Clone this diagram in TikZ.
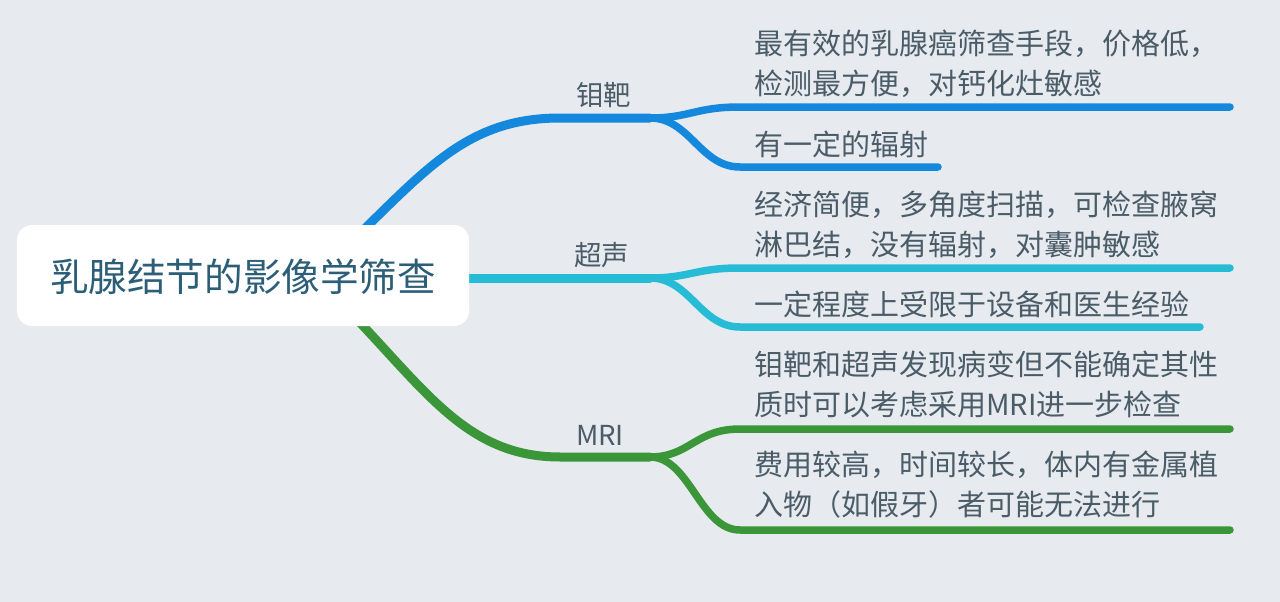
\documentclass[tikz,border=0pt]{standalone}
\usepackage{fontspec}
\setmainfont{Noto Sans CJK SC}
\definecolor{bgc}{HTML}{E7EAEE}
\definecolor{cblue}{HTML}{1488DD}
\definecolor{ccyan}{HTML}{27BCD6}
\definecolor{cgreen}{HTML}{3A9638}
\definecolor{ctext}{HTML}{4A5C68}
\definecolor{croot}{HTML}{2C5E77}
\tikzset{
  mainbr/.style={line width=9pt, line cap=round},
  subbr/.style={line width=7.5pt, line cap=round},
  lbl/.style={anchor=base west, inner sep=0pt, text=ctext, font=\fontsize{27.5}{32}\selectfont},
  leaf/.style={anchor=base west, inner sep=0pt, text=ctext, align=left, font=\fontsize{29}{40}\selectfont},
  rootbox/.style={fill=white, rounded corners=15pt, draw=none},
}
\begin{document}
\begin{tikzpicture}[x=1pt,y=-1pt]
\fill[bgc] (0,0) rectangle (1280,602);
\useasboundingbox (0,0) rectangle (1280,602);
% key points
\coordinate (rb) at (330,262);
\coordinate (rc) at (380,278);
\coordinate (rg) at (330,292);
\coordinate (jb0) at (560,118);
\coordinate (jb) at (650,118);
\coordinate (jc) at (650,278);
\coordinate (jg0) at (560,457);
\coordinate (jg) at (650,457);
\coordinate (b1s) at (740,107);
\coordinate (b1e) at (1230,107);
\coordinate (b2s) at (740,167);
\coordinate (b2e) at (938,167);
\coordinate (c1s) at (740,268);
\coordinate (c1e) at (1230,268);
\coordinate (c2s) at (740,327);
\coordinate (c2e) at (1200,327);
\coordinate (g1s) at (740,429);
\coordinate (g1e) at (1230,429);
\coordinate (g2s) at (740,530);
\coordinate (g2e) at (1230,530);
% main branches
\draw[mainbr, cblue] (rb) .. controls (420,178) and (460,118) .. (jb0) -- (jb);
\draw[mainbr, ccyan] (rc) -- (jc);
\draw[mainbr, cgreen] (rg) .. controls (420,380) and (460,457) .. (jg0) -- (jg);
% sub branches
\draw[subbr, cblue] (jb) .. controls (690,118) and (695,107) .. (b1s) -- (b1e);
\draw[subbr, cblue] (jb) .. controls (690,118) and (700,167) .. (b2s) -- (b2e);
\draw[subbr, ccyan] (jc) .. controls (690,278) and (695,268) .. (c1s) -- (c1e);
\draw[subbr, ccyan] (jc) .. controls (690,278) and (700,327) .. (c2s) -- (c2e);
\draw[subbr, cgreen] (jg) .. controls (690,457) and (695,429) .. (g1s) -- (g1e);
\draw[subbr, cgreen] (jg) .. controls (690,457) and (700,530) .. (g2s) -- (g2e);
% root
\node[rootbox, minimum width=452pt, minimum height=101pt, inner sep=0pt] (root) at (243,275.5) {};
\node[anchor=base, inner sep=0pt, text=croot, font=\fontsize{38.6}{44}\selectfont] (roottext) at (243,291) {乳腺结节的影像学筛查};
% labels
\node[lbl] (l1) at (576,105) {钼靶};
\node[lbl] (l2) at (574,265) {超声};
\node[lbl] (l3) at (576,445) {MRI};
% leaves (base = baseline of last line)
\node[leaf] (t1) at (754,95) {最有效的乳腺癌筛查手段，价格低，\\检测最方便，对钙化灶敏感};
\node[leaf] (t2) at (754,155) {有一定的辐射};
\node[leaf] (t3) at (754,255) {经济简便，多角度扫描，可检查腋窝\\淋巴结，没有辐射，对囊肿敏感};
\node[leaf] (t4) at (754,315) {一定程度上受限于设备和医生经验};
\node[leaf] (t5) at (754,415) {钼靶和超声发现病变但不能确定其性\\质时可以考虑采用MRI进一步检查};
\node[leaf] (t6) at (754,515) {费用较高，时间较长，体内有金属植\\入物（如假牙）者可能无法进行};
\end{tikzpicture}
\end{document}
